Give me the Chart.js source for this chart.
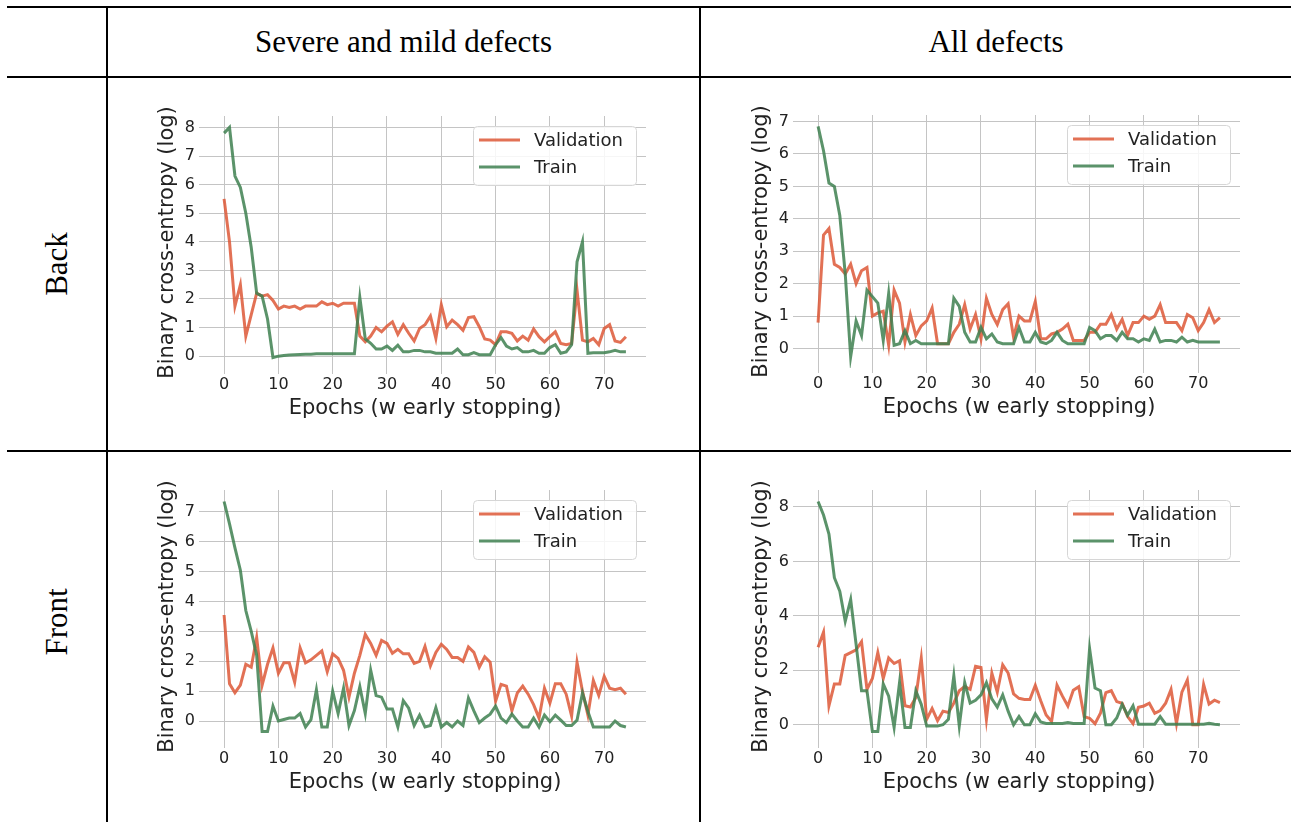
<!DOCTYPE html>
<html>
<head>
<meta charset="utf-8">
<script src="https://cdn.jsdelivr.net/npm/chart.js@4.4.1/dist/chart.umd.min.js"></script>
<style>
  body { margin: 0; background: #fff; width: 1291px; height: 822px; overflow: hidden; position: relative; }
  .rule { position: absolute; background: #000; }
  .head { position: absolute; display: flex; align-items: center; justify-content: center;
          font-family: "Liberation Serif", "Times New Roman", serif; font-size: 31px; color: #000; }
  .side { position: absolute; width: 200px; height: 40px; line-height: 40px; text-align: center;
          font-family: "Liberation Serif", "Times New Roman", serif; font-size: 31px; color: #000;
          transform: rotate(-90deg); }
  canvas { position: absolute; }
</style>
</head>
<body>
<div class="rule" style="left:7px;top:6px;width:1284px;height:2px"></div>
<div class="rule" style="left:7px;top:76px;width:1284px;height:2px"></div>
<div class="rule" style="left:7px;top:450px;width:1284px;height:2px"></div>
<div class="rule" style="left:106px;top:6px;width:2px;height:816px"></div>
<div class="rule" style="left:699px;top:6px;width:2px;height:816px"></div>

<div class="head" style="left:108px;top:8px;width:591px;height:68px">Severe and mild defects</div>
<div class="head" style="left:701px;top:8px;width:590px;height:68px">All defects</div>
<div class="side" style="left:-43px;top:244px">Back</div>
<div class="side" style="left:-43px;top:602px">Front</div>

<canvas id="backSevere" width="510" height="324" style="left:144px;top:100px"></canvas>
<canvas id="backAll" width="510" height="324" style="left:738px;top:99px"></canvas>
<canvas id="frontSevere" width="510" height="324" style="left:144px;top:474px"></canvas>
<canvas id="frontAll" width="510" height="324" style="left:738px;top:474px"></canvas>

<script>
const epochs = [0, 1, 2, 3, 4, 5, 6, 7, 8, 9, 10, 11, 12, 13, 14, 15, 16, 17, 18, 19,
  20, 21, 22, 23, 24, 25, 26, 27, 28, 29, 30, 31, 32, 33, 34, 35, 36, 37, 38, 39,
  40, 41, 42, 43, 44, 45, 46, 47, 48, 49, 50, 51, 52, 53, 54, 55, 56, 57, 58, 59,
  60, 61, 62, 63, 64, 65, 66, 67, 68, 69, 70, 71, 72, 73, 74];
const xTicks = [0, 10, 20, 30, 40, 50, 60, 70];

// Back / severe and mild defects
const valBackSevere = [5.5, 4.0, 1.75, 2.5, 0.7, 1.45, 2.2, 2.1, 2.15, 1.95,
  1.65, 1.75, 1.7, 1.75, 1.65, 1.75, 1.75, 1.75, 1.9, 1.8,
  1.85, 1.75, 1.85, 1.85, 1.85, 0.7, 0.5, 0.7, 1.0, 0.85,
  1.05, 1.2, 0.76, 1.1, 0.8, 0.53, 0.97, 1.1, 1.4, 0.62,
  1.8, 1.03, 1.26, 1.1, 0.9, 1.35, 1.38, 1.03, 0.6, 0.56,
  0.4, 0.85, 0.85, 0.8, 0.53, 0.7, 0.56, 0.95, 0.68, 0.5,
  0.68, 0.85, 0.44, 0.4, 0.44, 2.3, 0.56, 0.5, 0.62, 0.4,
  0.97, 1.1, 0.53, 0.48, 0.68];
const trainBackSevere = [7.8, 8.0, 6.3, 5.9, 5.0, 3.8, 2.2, 2.1, 1.3, -0.05,
  0.0, 0.02, 0.04, 0.05, 0.06, 0.07, 0.07, 0.08, 0.08, 0.08,
  0.08, 0.08, 0.08, 0.08, 0.08, 2.05, 0.6, 0.45, 0.25, 0.25,
  0.35, 0.2, 0.38, 0.15, 0.15, 0.2, 0.2, 0.15, 0.15, 0.1,
  0.1, 0.1, 0.1, 0.25, 0.05, 0.05, 0.12, 0.05, 0.05, 0.05,
  0.4, 0.65, 0.35, 0.25, 0.3, 0.15, 0.15, 0.2, 0.1, 0.1,
  0.3, 0.4, 0.1, 0.15, 0.4, 3.3, 4.0, 0.1, 0.12, 0.12,
  0.12, 0.15, 0.2, 0.15, 0.15];
const yTicksBackSevere = [0, 1, 2, 3, 4, 5, 6, 7, 8];

// Back / all defects
const valBackAll = [0.8, 3.5, 3.7, 2.6, 2.5, 2.3, 2.6, 2.0, 2.4, 2.5,
  1.0, 1.1, 1.15, 0.1, 1.8, 1.4, 0.2, 1.05, 0.4, 0.7,
  0.85, 1.25, 0.15, 0.15, 0.15, 0.5, 0.75, 1.35, 0.6, 1.05,
  0.3, 1.55, 1.05, 0.74, 1.2, 1.38, 0.35, 1.0, 0.85, 0.85,
  1.45, 0.3, 0.3, 0.45, 0.5, 0.6, 0.75, 0.25, 0.25, 0.25,
  0.5, 0.5, 0.75, 0.75, 1.05, 0.6, 0.9, 0.4, 0.8, 0.8,
  1.0, 0.9, 1.0, 1.35, 0.8, 0.8, 0.8, 0.55, 1.05, 0.95,
  0.55, 0.8, 1.2, 0.8, 0.95];
const trainBackAll = [6.85, 6.1, 5.1, 5.0, 4.1, 2.3, -0.25, 0.85, 0.4, 1.8,
  1.6, 1.4, 0.25, 1.7, 0.1, 0.15, 0.55, 0.15, 0.25, 0.15,
  0.15, 0.15, 0.15, 0.15, 0.15, 1.55, 1.3, 0.5, 0.2, 0.2,
  0.65, 0.3, 0.45, 0.2, 0.15, 0.15, 0.15, 0.65, 0.2, 0.2,
  0.5, 0.2, 0.15, 0.25, 0.5, 0.25, 0.15, 0.15, 0.15, 0.15,
  0.65, 0.55, 0.3, 0.4, 0.4, 0.25, 0.5, 0.3, 0.3, 0.2,
  0.3, 0.25, 0.6, 0.2, 0.25, 0.25, 0.2, 0.35, 0.2, 0.25,
  0.2, 0.2, 0.2, 0.2, 0.2];
const yTicksBackAll = [0, 1, 2, 3, 4, 5, 6, 7];

// Front / severe and mild defects
const valFrontSevere = [3.55, 1.25, 0.95, 1.2, 1.9, 1.8, 2.8, 1.2, 1.9, 2.45,
  1.6, 1.95, 1.95, 1.3, 2.45, 1.95, 2.05, 2.2, 2.35, 1.65,
  2.25, 2.1, 1.7, 0.8, 1.6, 2.2, 2.9, 2.6, 2.2, 2.7,
  2.6, 2.27, 2.4, 2.25, 2.25, 1.93, 2.0, 2.5, 1.85, 2.3,
  2.57, 2.4, 2.13, 2.13, 2.0, 2.48, 2.3, 1.8, 2.15, 1.97,
  0.66, 1.23, 1.17, 0.34, 0.94, 1.17, 0.9, 0.55, 0.1, 1.1,
  0.6, 1.25, 1.25, 0.9, 0.17, 1.97, 1.0, 0.2, 1.36, 0.86,
  1.5, 1.1, 1.05, 1.1, 0.9];
const trainFrontSevere = [7.35, 6.6, 5.8, 5.05, 3.7, 3.0, 2.2, -0.35, -0.35, 0.5,
  0.0, 0.05, 0.1, 0.1, 0.25, -0.2, 0.05, 1.05, -0.2, -0.2,
  1.0, 0.25, 1.1, -0.15, 0.35, 1.15, 0.25, 1.7, 0.85, 0.8,
  0.4, 0.4, -0.2, 0.68, 0.43, -0.15, 0.2, -0.2, -0.15, 0.45,
  -0.2, -0.05, -0.2, 0.0, -0.15, 0.77, 0.34, -0.05, 0.1, 0.23,
  0.5, 0.1, -0.05, 0.23, 0.0, -0.2, -0.2, 0.1, -0.2, 0.2,
  -0.02, 0.2, 0.03, -0.15, -0.15, 0.03, 0.94, 0.32, -0.2, -0.2,
  -0.2, -0.2, 0.0, -0.15, -0.2];
const yTicksFrontSevere = [0, 1, 2, 3, 4, 5, 6, 7];

// Front / all defects
const valFrontAll = [2.85, 3.4, 0.7, 1.5, 1.5, 2.55, 2.65, 2.75, 3.05, 1.3,
  1.7, 2.65, 1.7, 2.45, 2.25, 2.35, 0.7, 0.65, 1.0, 2.45,
  0.2, 0.6, 0.15, 0.5, 0.45, 0.8, 1.25, 1.4, 1.3, 2.15,
  2.1, 0.2, 1.9, 1.2, 2.2, 1.9, 1.13, 0.97, 0.93, 0.93,
  1.45, 0.88, 0.36, 0.12, 1.45, 1.05, 0.69, 1.27, 1.4, 0.3,
  0.24, 0.04, 0.42, 1.18, 1.25, 0.85, 0.79, 0.3, 0.04, 0.64,
  0.69, 0.79, 0.42, 0.52, 0.79, 1.3, 0.04, 1.2, 1.64, 0.0,
  0.0, 1.48, 0.76, 0.9, 0.81];
const trainFrontAll = [8.2, 7.7, 7.0, 5.4, 4.9, 3.8, 4.6, 2.95, 1.25, 1.25,
  -0.25, -0.25, 1.5, 1.05, -0.1, 1.55, -0.1, -0.1, 1.25, 0.75,
  -0.05, -0.05, -0.05, 0.0, 0.2, 1.8, -0.05, 1.55, 0.8, 0.9,
  1.1, 1.55, 0.95, 0.65, 1.1, 0.5, 0.0, 0.3, 0.0, 0.0,
  0.4, 0.1, 0.05, 0.05, 0.05, 0.05, 0.08, 0.05, 0.05, 0.05,
  2.8, 1.35, 1.25, 0.0, 0.0, 0.25, 0.75, 0.35, 0.7, 0.02,
  0.02, 0.02, 0.02, 0.3, 0.02, 0.02, 0.02, 0.02, 0.02, 0.02,
  0.02, 0.02, 0.05, 0.02, 0.0];
const yTicksFrontAll = [0, 2, 4, 6, 8];

const VAL_COLOR = 'rgba(221, 88, 55, 0.85)';
const TRAIN_COLOR = 'rgba(62, 128, 80, 0.85)';
const GRID = '#c4c4c4';
const TEXT = '#222222';
const FONT = '"DejaVu Sans", sans-serif';

// legend box drawn in the upper right corner of the plot, like matplotlib
const boxLegend = {
  id: 'boxLegend',
  afterDatasetsDraw(chart) {
    const ctx = chart.ctx;
    const area = chart.chartArea;
    const w = 163, h = 59;
    const bx = Math.round(area.right - 10 - w), by = Math.round(area.top + 10);
    ctx.save();
    ctx.fillStyle = 'rgba(255,255,255,0.85)';
    ctx.strokeStyle = '#d6d6d6';
    ctx.lineWidth = 1;
    ctx.beginPath();
    ctx.roundRect(bx + 0.5, by + 0.5, w, h, 4);
    ctx.fill();
    ctx.stroke();
    ctx.font = '18px ' + FONT;
    ctx.textBaseline = 'middle';
    chart.data.datasets.forEach((ds, i) => {
      const y = by + 14 + i * 27;
      ctx.strokeStyle = ds.borderColor;
      ctx.lineWidth = 3;
      ctx.beginPath();
      ctx.moveTo(bx + 6, y);
      ctx.lineTo(bx + 47, y);
      ctx.stroke();
      ctx.fillStyle = TEXT;
      ctx.fillText(ds.label, bx + 61, y + 1);
    });
    ctx.restore();
  }
};

function points(values) {
  return values.map((v, i) => ({ x: epochs[i], y: v }));
}

function makeChart(id, valData, trainData, yMin, yMax, yTicks) {
  const ctx = document.getElementById(id).getContext('2d');
  return new Chart(ctx, {
    type: 'line',
    data: {
      datasets: [
        { label: 'Validation', data: points(valData), borderColor: VAL_COLOR, borderWidth: 3,
          pointRadius: 0, tension: 0, fill: false, order: 1 },
        { label: 'Train', data: points(trainData), borderColor: TRAIN_COLOR, borderWidth: 3,
          pointRadius: 0, tension: 0, fill: false, order: 0 }
      ]
    },
    options: {
      responsive: false,
      animation: false,
      devicePixelRatio: 1,
      layout: { padding: { left: 0, top: 16, right: 8, bottom: 0 } },
      plugins: { legend: { display: false }, tooltip: { enabled: false } },
      scales: {
        x: {
          type: 'linear', min: -3.7, max: 77.7,
          afterBuildTicks: s => { s.ticks = xTicks.map(v => ({ value: v })); },
          afterFit: s => { s.height = 55; },
          grid: { color: GRID, lineWidth: 1, drawTicks: true, tickLength: 5, tickColor: GRID },
          border: { display: false },
          ticks: { color: TEXT, font: { family: FONT, size: 16 }, padding: 1, maxRotation: 0, autoSkip: false },
          title: { display: true, text: 'Epochs (w early stopping)', color: TEXT,
                   font: { family: FONT, size: 21 }, padding: { top: 0, bottom: 3 } }
        },
        y: {
          min: yMin, max: yMax,
          afterBuildTicks: s => { s.ticks = yTicks.map(v => ({ value: v })); },
          afterFit: s => { s.width = 60; },
          grid: { color: GRID, lineWidth: 1, drawTicks: true, tickLength: 5, tickColor: GRID },
          border: { display: false },
          ticks: { color: TEXT, font: { family: FONT, size: 16 }, padding: 4 },
          title: { display: true, text: 'Binary cross-entropy (log)', color: TEXT,
                   font: { family: FONT, size: 21 }, padding: { top: 11, bottom: 0 } }
        }
      }
    },
    plugins: [boxLegend]
  });
}

makeChart('backSevere', valBackSevere, trainBackSevere, -0.45, 8.4, yTicksBackSevere);
makeChart('backAll', valBackAll, trainBackAll, -0.6, 7.2, yTicksBackAll);
makeChart('frontSevere', valFrontSevere, trainFrontSevere, -0.735, 7.735, yTicksFrontSevere);
makeChart('frontAll', valFrontAll, trainFrontAll, -0.67, 8.62, yTicksFrontAll);
</script>
</body>
</html>
